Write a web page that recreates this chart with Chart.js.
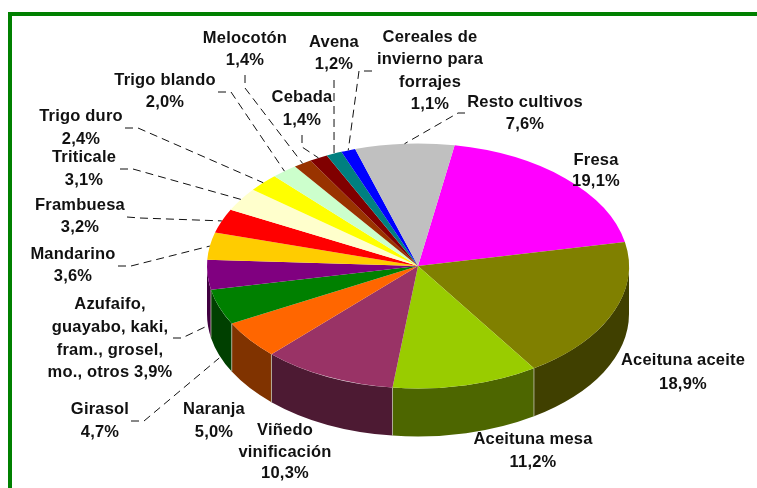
<!DOCTYPE html>
<html lang="es">
<head>
<meta charset="utf-8">
<title>Cultivos</title>
<script src="https://cdn.jsdelivr.net/npm/chart.js@4"></script>
<style>
html,body{margin:0;padding:0;background:#fff;overflow:hidden;width:757px;height:488px}
#frame{position:absolute;left:8px;top:12px;width:800px;height:520px;border:4px solid #008000;box-sizing:border-box}
canvas{position:absolute;left:0;top:0}
</style>
</head>
<body>
<div id="frame"></div>
<canvas id="c" width="757" height="488"></canvas>
<script>
const categories = ["Fresa","Aceituna aceite","Aceituna mesa","Viñedo vinificación","Naranja","Girasol","Azufaifo, guayabo, kaki, fram., grosel, mo., otros","Mandarino","Frambuesa","Triticale","Trigo duro","Trigo blando","Melocotón","Cebada","Avena","Cereales de invierno para forrajes","Resto cultivos"];
const values = [19.1,18.9,11.2,10.3,5.0,4.7,3.9,3.6,3.2,3.1,2.4,2.0,1.4,1.4,1.2,1.1,7.6];
const colors = ["#FF00FF","#808000","#99CC00","#993366","#FF6600","#008000","#800080","#FFCC00","#FF0000","#FFFFCC","#FFFF00","#CCFFCC","#993300","#800000","#008080","#0000FF","#C0C0C0"];
const sideColors = ["#800080","#404000","#4D6600","#4D1A33","#803300","#004000","#400040","#806600","#800000","#808066","#808000","#668066","#4D1A00","#400000","#004040","#000080","#606060"];
const labelLines = [
 ["Fresa","19,1%"],["Aceituna aceite","18,9%"],["Aceituna mesa","11,2%"],["Viñedo","vinificación","10,3%"],
 ["Naranja","5,0%"],["Girasol","4,7%"],["Azufaifo,","guayabo, kaki,","fram., grosel,","mo., otros 3,9%"],
 ["Mandarino","3,6%"],["Frambuesa","3,2%"],["Triticale","3,1%"],["Trigo duro","2,4%"],["Trigo blando","2,0%"],
 ["Melocotón","1,4%"],["Cebada","1,4%"],["Avena","1,2%"],["Cereales de","invierno para","forrajes","1,1%"],["Resto cultivos","7,6%"]
];
// Layout only: label centre x and the y of each line's centre
const labelX = [596,683,533,285,214,100,110,73,80,84,81,165,245,302,334,430,525];
const labelY = [[160,181],[360,384],[439,462],[430,452,473],[409,432],[409,432],[304,327,350,372],[254,276],[205,227],[157,180],[116,139],[80,102],[38,60],[97,120],[42,64],[37,59,82,104],[102,124]];
// Layout only: leader routes from the label towards the slice (null = no leader)
const leaderStart = [null,null,null,null,null,
 [[131,421],[144,421]],[[173,338],[182,338]],[[118,266],[131,266]],[[127,217],[140,218]],[[120,169],[133,169]],
 [[125,128],[138,128]],[[218,92],[231,92]],[[245,75],[245,88]],[[302,135],[302,147]],[[334,80],[334,92]],
 [[372,71],[359,71]],[[465,113],[458,113]]];
const leaderOnWall = [5,6];
const SQUASH = 122.5/211, DEPTH = 48;

const pie3d = {
  id:'pie3d',
  beforeDatasetsDraw(chart){
    const ctx = chart.ctx, arcs = chart.getDatasetMeta(0).data;
    ctx.save();
    arcs.forEach((a,i)=>{
      const s = Math.max(a.startAngle,0), e = Math.min(a.endAngle,Math.PI);
      if (e<=s) return;
      const rx=a.outerRadius, ry=rx*SQUASH;
      ctx.beginPath();
      ctx.ellipse(a.x,a.y,rx,ry,0,s,e,false);
      ctx.ellipse(a.x,a.y+DEPTH,rx,ry,0,e,s,true);
      ctx.closePath();
      ctx.fillStyle=sideColors[i];
      ctx.fill();
    });
    // pale seams on the wall
    ctx.strokeStyle='rgba(190,190,170,.8)'; ctx.lineWidth=1;
    arcs.forEach(a=>{
      const s=a.startAngle;
      if (s>0 && s<Math.PI){
        const rx=a.outerRadius, ry=rx*SQUASH;
        const x=a.x+rx*Math.cos(s), y=a.y+ry*Math.sin(s);
        ctx.beginPath();ctx.moveTo(x,y);ctx.lineTo(x,y+DEPTH);ctx.stroke();
      }
    });
    ctx.restore();
    ctx.save();
    const cx=arcs[0].x, cy=arcs[0].y;
    ctx.translate(cx,cy);ctx.scale(1,SQUASH);ctx.translate(-cx,-cy);
  },
  afterDatasetsDraw(chart){
    const ctx=chart.ctx, arcs=chart.getDatasetMeta(0).data;
    ctx.restore();
    ctx.save();
    ctx.setLineDash([8,5]);ctx.lineWidth=1;ctx.strokeStyle='#111';
    arcs.forEach((a,i)=>{
      const st=leaderStart[i]; if(!st) return;
      const m=(a.startAngle+a.endAngle)/2, rx=a.outerRadius, ry=rx*SQUASH;
      const ex=a.x+rx*Math.cos(m), ey=a.y+ry*Math.sin(m)+(leaderOnWall.includes(i)?DEPTH+3:0);
      ctx.beginPath();
      ctx.moveTo(st[0][0],st[0][1]);ctx.lineTo(st[1][0],st[1][1]);ctx.lineTo(ex,ey);
      ctx.stroke();
    });
    ctx.restore();
    ctx.save();
    ctx.fillStyle='#111';ctx.textAlign='center';ctx.textBaseline='middle';
    ctx.font='bold 16.5px "Liberation Sans", Arial, sans-serif';
    ctx.letterSpacing='0.2px';
    labelLines.forEach((lines,i)=>lines.forEach((t,j)=>ctx.fillText(t,labelX[i],labelY[i][j])));
    ctx.restore();
  }
};

new Chart(document.getElementById('c'),{
  type:'pie',
  data:{labels:categories,datasets:[{data:values,backgroundColor:colors,borderWidth:0}]},
  options:{
    responsive:false,animation:false,rotation:10,
    layout:{padding:{left:207,right:128,top:55,bottom:11}},
    plugins:{legend:{display:false},tooltip:{enabled:false},title:{display:false}}
  },
  plugins:[pie3d]
});
</script>
</body>
</html>
